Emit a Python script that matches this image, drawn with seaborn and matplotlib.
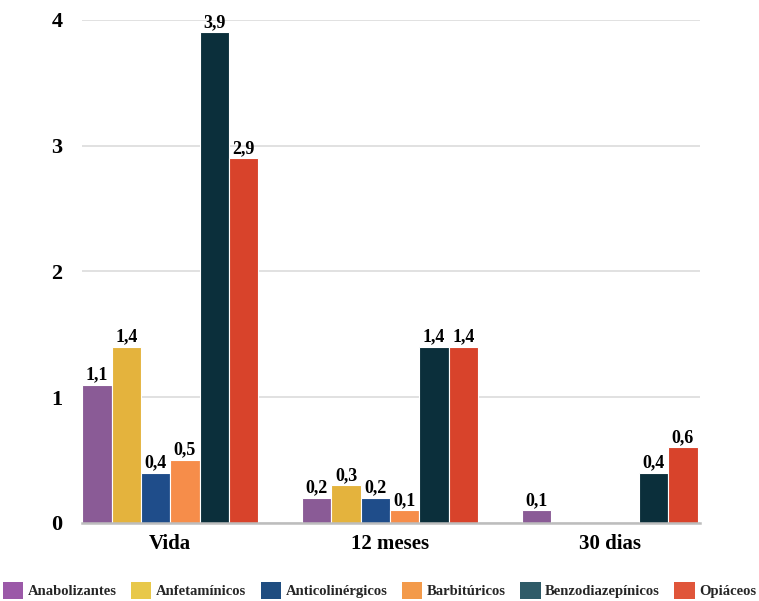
import matplotlib
matplotlib.use("Agg")
import matplotlib.pyplot as plt
from matplotlib.patches import Patch
import seaborn as sns
import pandas as pd
import numpy as np

categories = ["Vida", "12 meses", "30 dias"]
series = ["Anabolizantes", "Anfetamínicos", "Anticolinérgicos", "Barbitúricos",
          "Benzodiazepínicos", "Opiáceos"]
anabolizantes = [1.1, 0.2, 0.1]
anfetaminicos = [1.4, 0.3, 0.0]
anticolinergicos = [0.4, 0.2, 0.0]
barbituricos = [0.5, 0.1, 0.0]
benzodiazepinicos = [3.9, 1.4, 0.4]
opiaceos = [2.9, 1.4, 0.6]
yticks = [0, 1, 2, 3, 4]

bar_colors = ["#8a5b96", "#e4b33d", "#1f4d8a", "#f68d4a", "#0b2f3b", "#d8432b"]
legend_colors = ["#9b59a8", "#e8c84a", "#1f4d80", "#f39a4a", "#2f5b68", "#e0553a"]

values = [anabolizantes, anfetaminicos, anticolinergicos, barbituricos,
          benzodiazepinicos, opiaceos]
rows = []
for s, vals in zip(series, values):
    for c, v in zip(categories, vals):
        rows.append({"Periodo": c, "Droga": s, "Valor": v})
df = pd.DataFrame(rows)

sns.set_theme(style="white")
plt.rcParams["font.family"] = ["Liberation Serif", "DejaVu Serif"]

fig = plt.figure(figsize=(7.59, 6.01), dpi=100)
ax = fig.add_axes([0.108, 0.130, 0.814, 0.837])

sns.barplot(data=df, x="Periodo", y="Valor", hue="Droga", order=categories,
            hue_order=series, palette=bar_colors, saturation=1, width=0.8, ax=ax,
            edgecolor="white", linewidth=0.8, legend=False, errorbar=None)

for cont in ax.containers:
    labels = [("%.1f" % v).replace(".", ",") if v > 0 else "" for v in cont.datavalues]
    ax.bar_label(cont, labels=labels, padding=1, fontsize=13, fontweight="bold",
                 color="black")

ax.set_ylim(0, 4)
ax.set_xlim(-0.402, 2.41)
ax.set_yticks(yticks)
ax.set_yticklabels([str(t) for t in yticks], fontsize=16, fontweight="bold",
                   color="black")
ax.tick_params(axis="y", length=0, pad=14)
ax.tick_params(axis="x", length=0, pad=8)
for lab in ax.get_xticklabels():
    lab.set_fontsize(15)
    lab.set_fontweight("bold")
    lab.set_color("black")
ax.set_xlabel("")
ax.set_ylabel("")
ax.yaxis.grid(True, color="#dcdcdc", linewidth=1.2)
ax.set_axisbelow(True)
for sp in ["left", "right", "top"]:
    ax.spines[sp].set_visible(False)
ax.spines["bottom"].set_color("#bdbdbd")
ax.spines["bottom"].set_linewidth(1.8)

handles = [Patch(facecolor=c, edgecolor="none") for c in legend_colors]
fig.legend(handles, series, loc="center", bbox_to_anchor=(0.5, 0.018), ncol=6,
           frameon=False, prop={"weight": "bold", "size": 10.5},
           handlelength=1.4, handleheight=1.4, handletextpad=0.3,
           columnspacing=1.0, borderaxespad=0)

fig.savefig("out.png", dpi=100)
